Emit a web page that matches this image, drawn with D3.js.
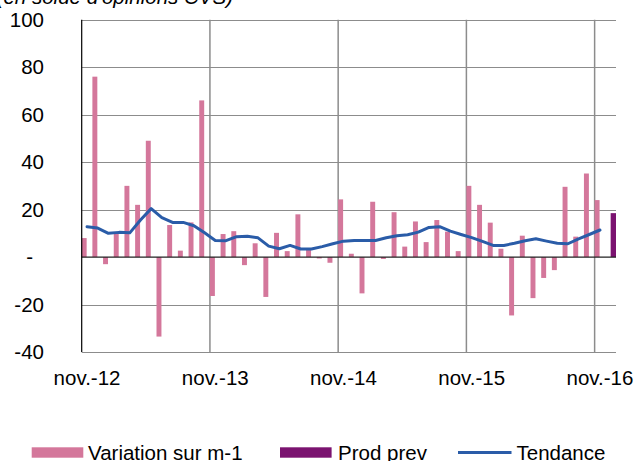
<!DOCTYPE html>
<html>
<head>
<meta charset="utf-8">
<script src="https://cdn.jsdelivr.net/npm/d3@7"></script>
<style>
  body { margin: 0; background: #fff; }
  svg { display: block; font-family: "Liberation Sans", Arial, sans-serif; }
</style>
</head>
<body>
<div id="chart"></div>
<script>
// Data
const months = d3.utcMonth.range(new Date(Date.UTC(2012, 10, 1)), new Date(Date.UTC(2017, 0, 1)));

const variation = [8, 76, -3, 10, 30, 22, 49, -33.5, 13.5, 2.7, 14.6, 66,
  -16.4, 9.7, 10.9, -3.4, 5.8, -16.8, 10.2, 2.5, 18, 3, -0.6, -2.4,
  24.3, 1.4, -15.3, 23.3, -0.8, 18.9, 4.4, 15, 6.3, 15.6, 10.7, 2.5,
  30, 22, 14.5, 3.5, -24.6, 9, -17.3, -8.8, -5.5, 29.6, 8.6, 35.2,
  24, null];

const prodPrev = [{ month: '2016-12', value: 18.5 }];

const tendance = [12.8, 12.2, 10, 10.4, 10.2, 15.6, 20.4, 16.6, 14.6, 14.6, 13.2, 10.2,
  7, 6.9, 8.6, 8.8, 8.1, 4.6, 3.5, 4.9, 3.4, 3.4, 4.4, 5.6,
  6.7, 7, 7, 7, 8.1, 9, 9.4, 10.5, 12.5, 12.8, 10.9, 9.5,
  8.2, 6.6, 4.9, 4.9, 5.8, 6.9, 7.7, 6.7, 5.8, 5.6, 7.7, 9.5,
  11.4];

const yTicks = [-40, -20, 0, 20, 40, 60, 80, 100];
const legendItems = ['Variation sur m-1', 'Prod prev', 'Tendance'];

// Dimensions
const width = 638, height = 461;
const plot = { left: 81.7, right: 616, top: 19.7, bottom: 352 };
const fmtKey = d3.utcFormat('%Y-%m');
const fontSize = 20.5;

const svg = d3.select('#chart').append('svg')
    .attr('width', width)
    .attr('height', height);

// Scales
const x = d3.scaleBand()
    .domain(months.map(fmtKey))
    .range([plot.left, plot.right])
    .padding(0);

const xInner = d3.scaleBand()
    .domain(['var', 'prev'])
    .range([0, x.bandwidth()])
    .padding(0);

const y = d3.scaleLinear()
    .domain([-40, 100])
    .range([plot.bottom, plot.top]);

// Horizontal gridlines
svg.append('g')
    .selectAll('line')
    .data(yTicks.filter(d => d !== 0))
    .enter()
    .append('line')
    .attr('x1', plot.left)
    .attr('x2', plot.right)
    .attr('y1', d => Math.round(y(d)) + 0.5)
    .attr('y2', d => Math.round(y(d)) + 0.5)
    .attr('stroke', '#8c8c8c')
    .attr('stroke-width', 1);

// Vertical gridlines at each november
const novs = months.filter((d, i) => i > 0 && d.getUTCMonth() === 10).map(fmtKey);
svg.append('g')
    .selectAll('line')
    .data(novs)
    .enter()
    .append('line')
    .attr('x1', d => x(d))
    .attr('x2', d => x(d))
    .attr('y1', plot.top)
    .attr('y2', plot.bottom)
    .attr('stroke', '#8c8c8c')
    .attr('stroke-width', 1.5);

// Y axis labels (zero shown as a dash, sitting left like the Excel format)
const yAxis = d3.axisLeft(y)
    .tickValues(yTicks)
    .tickSize(0)
    .tickPadding(0)
    .tickFormat(d => d === 0 ? '-' : d);

const yG = svg.append('g')
    .attr('transform', 'translate(44, 0)')
    .call(yAxis)
    .call(g => g.select('.domain').remove());

yG.selectAll('text')
    .attr('font-size', fontSize)
    .attr('font-family', '"Liberation Sans", Arial, sans-serif')
    .attr('fill', '#000');

yG.selectAll('.tick')
    .filter(d => d === 0)
    .select('text')
    .attr('x', -11);

// Bars: variation
svg.append('g')
    .selectAll('rect')
    .data(months.map((m, i) => ({ key: fmtKey(m), value: variation[i] })).filter(d => d.value !== null))
    .enter()
    .append('rect')
    .attr('x', d => x(d.key) + xInner('var'))
    .attr('width', xInner.bandwidth() - 0.4)
    .attr('y', d => y(Math.max(0, d.value)))
    .attr('height', d => Math.abs(y(d.value) - y(0)))
    .attr('fill', '#d4779b');

// Bars: prod prev
svg.append('g')
    .selectAll('rect')
    .data(prodPrev)
    .enter()
    .append('rect')
    .attr('x', d => x(d.month) + xInner('prev'))
    .attr('width', xInner.bandwidth())
    .attr('y', d => y(Math.max(0, d.value)))
    .attr('height', d => Math.abs(y(d.value) - y(0)))
    .attr('fill', '#7b1370');

// Zero line, left axis
svg.append('line')
    .attr('x1', plot.left).attr('x2', plot.right)
    .attr('y1', y(0)).attr('y2', y(0))
    .attr('stroke', '#222').attr('stroke-width', 1.2);

svg.append('line')
    .attr('x1', plot.left).attr('x2', plot.left)
    .attr('y1', plot.top).attr('y2', plot.bottom)
    .attr('stroke', '#000').attr('stroke-width', 1.2);

// Tendance line
const line = d3.line()
    .x((d, i) => x(fmtKey(months[i])) + x.bandwidth() / 2)
    .y(d => y(d));

svg.append('path')
    .datum(tendance)
    .attr('d', line)
    .attr('fill', 'none')
    .attr('stroke', '#2a5ca8')
    .attr('stroke-width', 3)
    .attr('stroke-linejoin', 'round')
    .attr('stroke-linecap', 'round');

// X axis labels (each november)
const xLabelFmt = d3.utcFormat('%y');
svg.append('g')
    .selectAll('text')
    .data(months.filter(d => d.getUTCMonth() === 10))
    .enter()
    .append('text')
    .attr('x', d => x(fmtKey(d)) + x.bandwidth() / 2)
    .attr('y', 385)
    .attr('text-anchor', 'middle')
    .attr('font-size', fontSize)
    .text(d => 'nov.-' + xLabelFmt(d));

// Subtitle (cut off at top)
svg.append('text')
    .attr('x', 233)
    .attr('y', 3.5)
    .attr('text-anchor', 'end')
    .attr('font-size', fontSize)
    .attr('font-style', 'italic')
    .text("(en solde d'opinions CVS)");

// Legend
const legend = svg.append('g');
legend.append('rect')
    .attr('x', 31.7).attr('y', 447.3).attr('width', 51.6).attr('height', 10.4)
    .attr('fill', '#d4779b');
legend.append('text')
    .attr('x', 88).attr('y', 459.5).attr('font-size', fontSize)
    .text(legendItems[0]);

legend.append('rect')
    .attr('x', 280).attr('y', 447.3).attr('width', 51.6).attr('height', 10.4)
    .attr('fill', '#7b1370');
legend.append('text')
    .attr('x', 338).attr('y', 459.5).attr('font-size', fontSize)
    .text(legendItems[1]);

legend.append('line')
    .attr('x1', 458).attr('x2', 511.5).attr('y1', 452.5).attr('y2', 452.5)
    .attr('stroke', '#2a5ca8').attr('stroke-width', 3);
legend.append('text')
    .attr('x', 516.5).attr('y', 459.5).attr('font-size', fontSize)
    .text(legendItems[2]);
</script>
</body>
</html>
